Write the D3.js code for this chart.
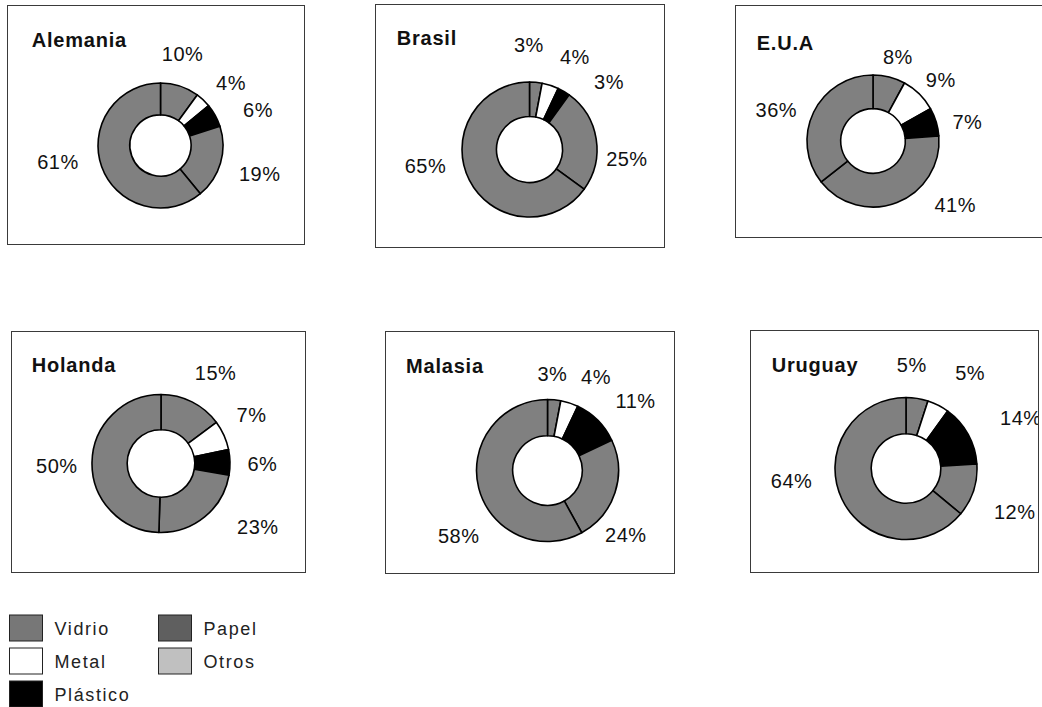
<!DOCTYPE html>
<html><head><meta charset="utf-8">
<script src="https://cdn.jsdelivr.net/npm/d3@7"></script>
<style>body{margin:0;background:#fff}svg{display:block}</style>
</head><body>
<svg id="c" width="1042" height="707"></svg>
<script>
// ---- data ----
const countries = ["Alemania", "Brasil", "E.U.A", "Holanda", "Malasia", "Uruguay"];
const materials = ["Vidrio", "Metal", "Plástico", "Papel", "Otros"];
const alemania = [10, 4, 6, 19, 61];
const brasil   = [3, 4, 3, 25, 65];
const eua      = [8, 9, 7, 41, 36];
const holanda  = [15, 7, 6, 23, 50];
const malasia  = [3, 4, 11, 24, 58];
const uruguay  = [5, 5, 14, 12, 64];
const seriesValues = [alemania, brasil, eua, holanda, malasia, uruguay];

// ---- styles ----
const sliceColors  = ["#808080", "#ffffff", "#000000", "#808080", "#808080"];
const legendColors = ["#777777", "#ffffff", "#000000", "#5f5f5f", "#c0c0c0"];
const FONT = "'Liberation Sans', Arial, sans-serif";

// ---- layout (boxes, donut centres/radii, title offsets) ----
const panels = [
  {box: [7, 5, 297, 239],   c: [160.5, 145.5], R: 62.5, t: [24.7, 41.7]},
  {box: [375, 4, 289, 243], c: [529.5, 149.5], R: 67.5, t: [21.7, 41]},
  {box: [735, 5, 330, 232], c: [873, 141],     R: 66,   t: [21.7, 45]},
  {box: [11, 331, 294, 241],c: [161, 463.5],   R: 69,   t: [20.7, 40.7]},
  {box: [385, 331, 289, 242],c: [547.5, 470.5],R: 71,   t: [21, 42.3]},
  {box: [750, 330, 288, 242],c: [906, 468.5],  R: 71,   t: [21.7, 41.7]}
];
// label placement: [angle shift from slice mid (deg), radius factor of R]
const labelNudge = [
  [[-4.5,1.51],[5.2,1.51],[8.8,1.66],[-0.4,1.65],[10.9,1.66]],
  [[-5.7,1.55],[8.1,1.53],[18.9,1.55],[14.7,1.45],[18,1.56]],
  [[2.2,1.33],[3.5,1.38],[5.4,1.46],[-30.6,1.58],[-7.8,1.54]],
  [[4.4,1.53],[-4.3,1.49],[1.2,1.47],[-17.4,1.68],[-1.9,1.51]],
  [[-2.5,1.37],[9.3,1.49],[6.7,1.58],[21.5,1.43],[-21.8,1.55]],
  [[-5.8,1.46],[6.9,1.62],[4.8,1.77],[3.8,1.65],[19.2,1.62]]
];

const svg = d3.select("#c");
const defs = svg.append("defs");
const pie = d3.pie().sort(null).value(d => d);

countries.forEach((name, ci) => {
  const p = panels[ci];
  const [bx, by, bw, bh] = p.box;
  defs.append("clipPath").attr("id", "clip" + ci)
    .append("rect").attr("x", bx).attr("y", by).attr("width", bw).attr("height", bh);

  svg.append("rect")
    .attr("x", bx + 0.5).attr("y", by + 0.5).attr("width", bw).attr("height", bh)
    .attr("fill", "#fff").attr("stroke", "#3a3a3a").attr("stroke-width", 1);

  const g = svg.append("g").attr("clip-path", "url(#clip" + ci + ")");

  g.append("text")
    .attr("x", bx + p.t[0]).attr("y", by + p.t[1])
    .attr("font-family", FONT).attr("font-weight", "bold")
    .attr("font-size", 20).attr("letter-spacing", "0.8px")
    .attr("fill", "#111").text(name);

  const arc = d3.arc().innerRadius(p.R * 0.49).outerRadius(p.R);
  const arcs = pie(seriesValues[ci]);
  const dg = g.append("g").attr("transform", `translate(${p.c[0]},${p.c[1]})`);
  dg.selectAll("path").data(arcs).join("path")
    .attr("d", arc)
    .attr("fill", (d, i) => sliceColors[i])
    .attr("stroke", "#000").attr("stroke-width", 1.6)
    .attr("stroke-linejoin", "round");

  dg.selectAll("text").data(arcs).join("text")
    .each(function(d, i) {
      const nd = labelNudge[ci][i];
      const a = (d.startAngle + d.endAngle) / 2 + nd[0] * Math.PI / 180;
      const rr = p.R * nd[1];
      d3.select(this)
        .attr("x", rr * Math.sin(a))
        .attr("y", -rr * Math.cos(a));
    })
    .attr("dy", "0.36em")
    .attr("text-anchor", "middle")
    .attr("font-family", FONT).attr("font-size", 20)
    .attr("letter-spacing", "0.5px")
    .attr("fill", "#111")
    .text(d => d.data + "%");
});

// ---- legend ----
const legendCols = [9.5, 158.5];
const legendRows = [615, 648, 681];
const lg = svg.append("g");
materials.forEach((m, i) => {
  const col = i < 3 ? 0 : 1;
  const row = i < 3 ? i : i - 3;
  lg.append("rect")
    .attr("x", legendCols[col]).attr("y", legendRows[row])
    .attr("width", 33).attr("height", 26)
    .attr("fill", legendColors[i]).attr("stroke", "#222").attr("stroke-width", 1);
  lg.append("text")
    .attr("x", legendCols[col] + 45).attr("y", legendRows[row] + 20)
    .attr("font-family", FONT).attr("font-size", 18)
    .attr("letter-spacing", "1.6px")
    .attr("fill", "#222").text(m);
});
</script>
</body></html>
